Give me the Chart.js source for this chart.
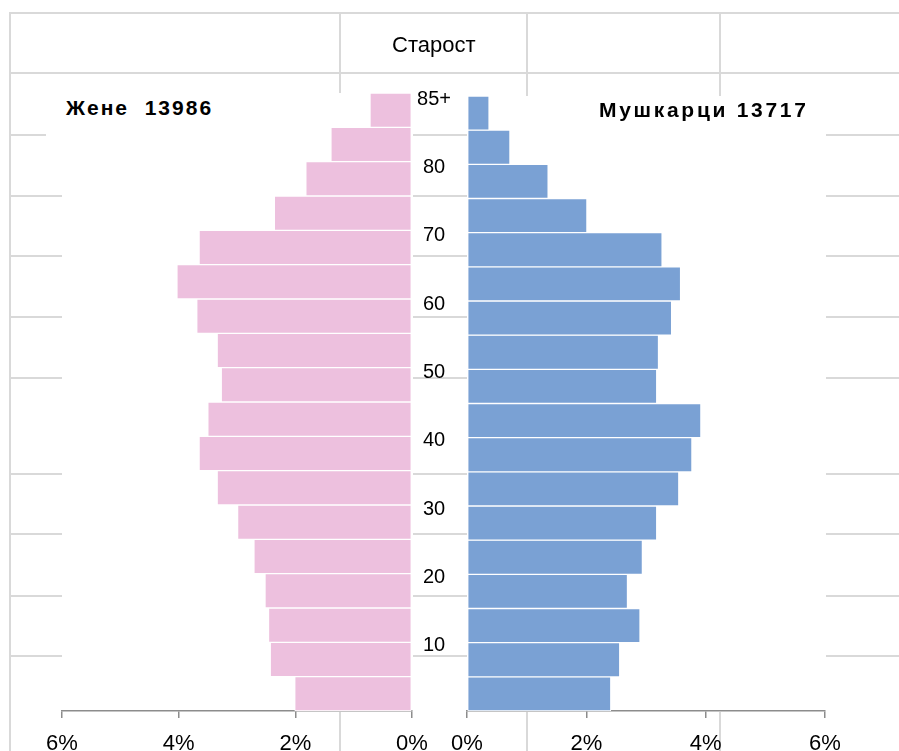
<!DOCTYPE html>
<html lang="sr">
<head>
    <meta charset="UTF-8">
    <title>Старост</title>
    <style>
        * {
            margin: 0;
            padding: 0;
            box-sizing: border-box;
        }

        body {
            width: 899px;
            height: 751px;
            overflow: hidden;
            position: relative;
            background: #fff;
            font-family: 'Liberation Sans', Arial, sans-serif;
            color: #000;
        }

        /* table-like grid behind the charts */
        .hline {
            position: absolute;
            left: 10px;
            right: 0;
            height: 2px;
            background: #d9d9d9;
        }

        .vline {
            position: absolute;
            top: 12px;
            width: 2px;
            height: 760px;
            background: #d9d9d9;
        }

        .chart-box {
            position: absolute;
            top: 0;
            height: 760px;
        }

        #left-box { left: 0; width: 450px; }
        #right-box { left: 413px; width: 486px; }

        .axis-title {
            position: absolute;
            left: 392px;
            top: 34px;
            font-size: 22px;
            line-height: 22px;
        }

        .side-title {
            position: absolute;
            font-size: 21px;
            line-height: 21px;
            font-weight: bold;
            letter-spacing: 2px;
            white-space: pre;
        }

        #women-title {
            left: 46px;
            top: 93px;
            width: 190px;
            height: 56px;
            padding: 4px 0 0 20px;
            background: #fff;
        }

        #men-title {
            left: 599px;
            top: 99px;
            letter-spacing: 2.7px;
        }
    </style>
</head>
<body>
    <div id="grid"></div>

    <div class="chart-box" id="left-box"><canvas id="women-chart"></canvas></div>
    <div class="chart-box" id="right-box"><canvas id="men-chart"></canvas></div>

    <div class="axis-title">Старост</div>
    <div class="side-title" id="women-title"></div>
    <div class="side-title" id="men-title"></div>

    <script src="https://cdn.jsdelivr.net/npm/chart.js"></script>
    <script>
        // age groups, bottom to top
        const ageGroups = ['0-4', '5-9', '10-14', '15-19', '20-24', '25-29', '30-34', '35-39', '40-44',
                           '45-49', '50-54', '55-59', '60-64', '65-69', '70-74', '75-79', '80-84', '85+'];
        const ageStart = [0, 5, 10, 15, 20, 25, 30, 35, 40, 45, 50, 55, 60, 65, 70, 75, 80, 85];

        // share of population, %
        const women = [2.01, 2.43, 2.46, 2.52, 2.71, 2.99, 3.34, 3.65, 3.50,
                       3.27, 3.34, 3.69, 4.03, 3.65, 2.36, 1.82, 1.39, 0.72];
        const men = [2.41, 2.56, 2.90, 2.69, 2.94, 3.18, 3.55, 3.77, 3.92,
                     3.18, 3.21, 3.43, 3.58, 3.27, 2.01, 1.36, 0.72, 0.37];

        const womenTotal = 13986;
        const menTotal = 13717;

        const pctTicks = [0, 2, 4, 6];
        const ageTickValues = [10, 20, 30, 40, 50, 60, 70, 80, 90];
        const ageTickLabels = ['10', '20', '30', '40', '50', '60', '70', '80', '85+'];

        document.getElementById('women-title').textContent = 'Жене  ' + womenTotal;
        document.getElementById('men-title').textContent = 'Мушкарци ' + menTotal;

        // background grid
        const grid = document.getElementById('grid');
        [13, 73, 135, 196, 256, 317, 378, 474, 534, 596, 656].forEach(y => {
            const d = document.createElement('div');
            d.className = 'hline';
            d.style.top = (y - 1) + 'px';
            grid.appendChild(d);
        });
        [10, 340, 527, 720].forEach(x => {
            const d = document.createElement('div');
            d.className = 'vline';
            d.style.left = (x - 1) + 'px';
            grid.appendChild(d);
        });

        // white plot area over the grid
        const plotBackground = {
            id: 'plotBackground',
            beforeDraw(chart) {
                const a = chart.chartArea;
                const ctx = chart.ctx;
                ctx.save();
                ctx.fillStyle = '#fff';
                ctx.fillRect(a.left, a.top, a.width + 1, a.height + 1);
                ctx.restore();
            }
        };

        const font = "'Liberation Sans', Arial, sans-serif";

        function makePyramid(id, values, color, side) {
            const isLeft = side === 'left';
            return new Chart(document.getElementById(id), {
                type: 'bar',
                data: {
                    datasets: [{
                        label: isLeft ? 'Жене' : 'Мушкарци',
                        data: values.map((v, i) => ({ x: v, y: ageStart[i] + 2.5 })),
                        backgroundColor: color,
                        borderColor: '#fff',
                        borderWidth: 1,
                        borderSkipped: false,
                        barPercentage: 1,
                        categoryPercentage: 1
                    }]
                },
                options: {
                    indexAxis: 'y',
                    responsive: true,
                    maintainAspectRatio: false,
                    animation: false,
                    layout: {
                        padding: isLeft
                            ? { left: 62, right: 38, top: 93, bottom: 0 }
                            : { left: 0, right: 74, top: 96, bottom: 0 }
                    },
                    plugins: {
                        legend: { display: false },
                        tooltip: { enabled: false }
                    },
                    scales: {
                        x: {
                            type: 'linear',
                            min: 0,
                            max: 6,
                            reverse: isLeft,
                            afterBuildTicks: s => { s.ticks = pctTicks.map(v => ({ value: v })); },
                            afterFit: s => { s.height = 49; },
                            ticks: {
                                callback: v => v + '%',
                                color: '#000',
                                font: { size: 22, family: font },
                                padding: 13,
                                maxRotation: 0,
                                autoSkip: false
                            },
                            grid: {
                                drawOnChartArea: false,
                                drawTicks: true,
                                tickLength: 7,
                                color: '#8c8c8c',
                                lineWidth: 1.5
                            },
                            border: { display: true, color: '#8c8c8c', width: 1.5 }
                        },
                        y: {
                            type: 'linear',
                            min: 0,
                            max: 90,
                            offset: false,
                            display: !isLeft,
                            position: 'left',
                            afterBuildTicks: s => { s.ticks = ageTickValues.map(v => ({ value: v })); },
                            afterFit: s => { s.width = isLeft ? 0 : 54; },
                            ticks: {
                                callback: v => ageTickLabels[ageTickValues.indexOf(v)],
                                color: '#000',
                                font: { size: 20, family: font },
                                crossAlign: 'center',
                                padding: 16,
                                labelOffset: 3,
                                autoSkip: false
                            },
                            grid: { display: false, drawTicks: false },
                            border: { display: false }
                        }
                    }
                },
                plugins: [plotBackground]
            });
        }

        makePyramid('women-chart', women, '#edc0de', 'left');
        makePyramid('men-chart', men, '#7aa1d4', 'right');
    </script>
</body>
</html>
